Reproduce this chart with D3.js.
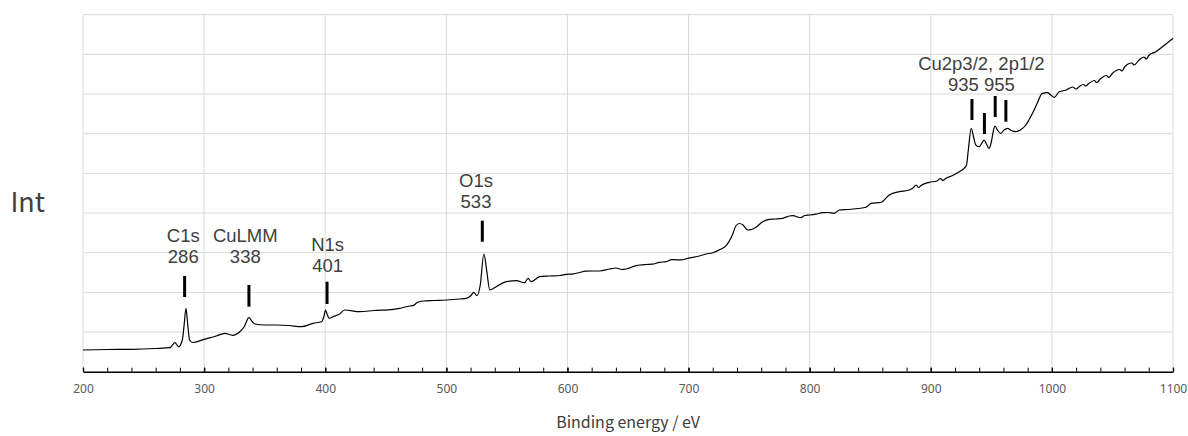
<!DOCTYPE html>
<html>
<head>
<meta charset="utf-8">
<script src="https://cdn.jsdelivr.net/npm/d3@7"></script>
<style>
  html, body { margin: 0; padding: 0; background: #fff; }
  svg { display: block; }
</style>
</head>
<body>
<svg id="chart" width="1188" height="436"></svg>
<script>
// XPS survey spectrum: binding energy (eV) vs. intensity (counts/s)
const energy = [
  200, 220, 240, 260, 271.8, 275.9, 279, 282, 283.5, 285, 286.5, 288, 290.5,
  300, 310, 317, 323.5, 329.5, 333, 337, 340, 342, 350, 360, 370, 380.4, 390,
  397, 399, 400.2, 401.5, 403.2, 407, 411.5, 416, 428.5, 440, 456, 461.5,
  469.8, 472.5, 476, 480.8, 490, 500, 511, 516.5, 520, 522.6, 525.3, 528, 531,
  533.5, 535.8, 541.2, 549.5, 557.8, 564.6, 567.5, 570, 577, 585, 593.5, 599,
  605, 610, 615, 621, 626.5, 634.7, 640, 645, 648.5, 656.8, 660, 665, 670, 676,
  681.5, 686, 690, 694, 699.3, 709,
  714.5, 720, 726, 731, 736.5, 739, 742, 745, 748.8, 752, 755.7, 761.2, 766.7,
  772, 777.7, 783.2, 786, 792.8, 796, 800.2, 805, 810.7, 815, 820.3, 824.5,
  832, 840, 846.5, 850.6, 858.9, 865.7, 874, 882.2, 885, 888, 890, 892, 898.7,
  905, 908, 910, 912.5, 918, 923.5, 927, 929.5, 931, 933.4, 935.5, 937.2, 940,
  942, 944, 946, 948, 950, 951.5, 953, 955, 957.8, 960.5, 963.3, 966.5, 970,
  974, 978.5, 981, 984, 988, 992, 996.4, 999, 1002, 1006, 1012, 1017, 1020,
  1022.5, 1026, 1028, 1030, 1035, 1037, 1040, 1045, 1047, 1050, 1056, 1058,
  1060, 1066, 1068, 1072, 1076, 1078, 1080, 1085.8, 1092, 1100
];
const intensity = [
  5471, 5597, 5647, 5849, 6050, 7311, 6303, 7992, 11773, 15983, 11773, 7992, 7361,
  8168, 9000, 9681, 9176, 10084, 11269, 13613, 12529, 12025, 11773, 11773, 11647, 11345, 12202,
  12605, 14042, 15555, 14546, 13462, 13916, 14471, 15555, 15126, 15429, 15731, 15983,
  16563, 16639, 17445, 17823, 17950, 18076, 18328, 18504, 19084, 20017, 19160, 21857, 29672,
  25134, 20597, 21429, 22689, 22941, 22437, 23546, 22689, 23950, 24126, 24252, 24555,
  24680, 25008, 25336, 25386, 25386, 25891, 26143, 25765, 25891, 26723, 26899, 27025, 27101, 27580,
  27731, 28260, 28210, 28185, 28588, 29168,
  29672, 30000, 30807, 31765, 34714, 36731, 37361, 36983, 35723, 35849, 36403, 37815, 38420,
  38496, 38672, 39252, 39328, 38823, 39378, 39504, 39706, 40084, 40134, 39933, 40765,
  40891, 41143, 41445, 42454, 42706, 44546, 45378, 45806, 46235, 47068, 46437, 46941, 47748,
  48075, 48706, 48202, 48756, 49462, 50420, 51101, 52109, 55891, 61362, 58916, 57151, 56723,
  57529, 58412, 57403, 56319, 57907, 60428, 61941, 60933, 60101, 60933, 61362, 60807, 60504,
  60933, 62193, 63454, 65143, 67739, 70185, 70336, 69756, 69176, 70588, 71017, 71773, 71268,
  71849, 72403, 72025, 72529, 73412, 72907, 73790, 74672, 74168, 75227, 76185, 75806,
  76815, 77823, 77319, 78580, 79336, 78832, 79714, 80672, 82109, 84050
];

// Peak annotations (two lines each)
const peakLines1   = ["C1s", "CuLMM", "N1s", "O1s", "Cu2p3/2, 2p1/2"];
const peakLines2   = ["286", "338", "401", "533", "935 955"];
const labelEnergy  = [282.8, 334, 402, 524.5, 941.8];
const labelLevel   = [27479, 27479, 25210, 41344, 70764];

// Peak markers: energy, top and bottom intensity
const markerEnergy = [283.9, 337, 401.5, 529.7, 934, 944.3, 953.2, 962];
const markerTop    = [24126, 21857, 22689, 38067, 68748, 65218, 69504, 68496];
const markerBottom = [18832, 16387, 17067, 32773, 63454, 59924, 64210, 63025];

const xMajorTicks = d3.range(200, 1101, 100);
const xMinorTicks = d3.range(200, 1101, 20);
const yGridTicks  = d3.range(10000, 90001, 10000);

const svg = d3.select("#chart");
const plot = { left: 83, right: 1173, top: 14.7, bottom: 371.7 };

const x = d3.scaleLinear().domain([200, 1100]).range([plot.left, plot.right]);
const y = d3.scaleLinear().domain([0, 90000]).range([plot.bottom, plot.top]);

// gridlines
svg.append("g")
  .selectAll("line")
  .data(xMajorTicks)
  .join("line")
  .attr("x1", d => x(d)).attr("x2", d => x(d))
  .attr("y1", plot.top).attr("y2", plot.bottom)
  .attr("stroke", "#d9d9d9").attr("stroke-width", 1);

svg.append("g")
  .selectAll("line")
  .data(yGridTicks)
  .join("line")
  .attr("x1", plot.left).attr("x2", plot.right)
  .attr("y1", d => y(d)).attr("y2", d => y(d))
  .attr("stroke", "#d9d9d9").attr("stroke-width", 1);

// x axis: minor ticks, then major ticks with labels
const minorAxis = d3.axisBottom(x).tickValues(xMinorTicks).tickFormat("").tickSizeInner(-4).tickSizeOuter(0);
const gMinor = svg.append("g").attr("transform", `translate(0,${plot.bottom})`).call(minorAxis);
gMinor.select(".domain").remove();
gMinor.selectAll("line").attr("stroke", "#000").attr("stroke-width", 1);

const majorAxis = d3.axisBottom(x).tickValues(xMajorTicks).tickFormat(d3.format("d"))
  .tickSizeInner(-4).tickSizeOuter(0).tickPadding(13);
const gMajor = svg.append("g").attr("transform", `translate(0,${plot.bottom})`).call(majorAxis);
gMajor.select(".domain").attr("stroke", "#000").attr("stroke-width", 1.4);
gMajor.selectAll("line").attr("stroke", "#000").attr("stroke-width", 1.4);
gMajor.selectAll("text")
  .attr("fill", "#595959")
  .style("font-family", "'Noto Sans', sans-serif")
  .style("font-size", "12px");

// spectrum
const pts = energy.map((e, i) => [e, intensity[i]]);
const line = d3.line().x(d => x(d[0])).y(d => y(d[1])).curve(d3.curveMonotoneX);
svg.append("path")
  .datum(pts)
  .attr("d", line)
  .attr("fill", "none")
  .attr("stroke", "#000")
  .attr("stroke-width", 1.2)
  .attr("stroke-linejoin", "round");

// peak markers
svg.append("g")
  .selectAll("line")
  .data(markerEnergy)
  .join("line")
  .attr("x1", d => x(d)).attr("x2", d => x(d))
  .attr("y1", (d, i) => y(markerTop[i]))
  .attr("y2", (d, i) => y(markerBottom[i]))
  .attr("stroke", "#000").attr("stroke-width", 3);

// peak labels: one text element per peak, two tspans
const lab = svg.append("g")
  .style("font-family", "'Liberation Sans', Arial, sans-serif")
  .style("font-size", "18.5px")
  .attr("fill", "#404040")
  .attr("text-anchor", "middle");
peakLines1.forEach((t, i) => {
  const cx = x(labelEnergy[i]);
  const txt = lab.append("text").attr("x", cx).attr("y", y(labelLevel[i]) - 21);
  txt.append("tspan").attr("x", cx).text(t);
  txt.append("tspan").attr("x", cx).attr("dy", 21).text(peakLines2[i]);
});

// axis titles
svg.append("text")
  .attr("x", 27.7).attr("y", 211.7)
  .attr("text-anchor", "middle")
  .attr("fill", "#404040")
  .style("font-family", "'Noto Sans CJK JP', 'Noto Sans', sans-serif")
  .style("font-size", "27px")
  .text("Int");

svg.append("text")
  .attr("x", (plot.left + plot.right) / 2).attr("y", 428)
  .attr("text-anchor", "middle")
  .attr("fill", "#404040")
  .style("font-family", "'Noto Sans CJK JP', 'Noto Sans', sans-serif")
  .style("font-size", "16px")
  .text("Binding energy / eV");
</script>
</body>
</html>
